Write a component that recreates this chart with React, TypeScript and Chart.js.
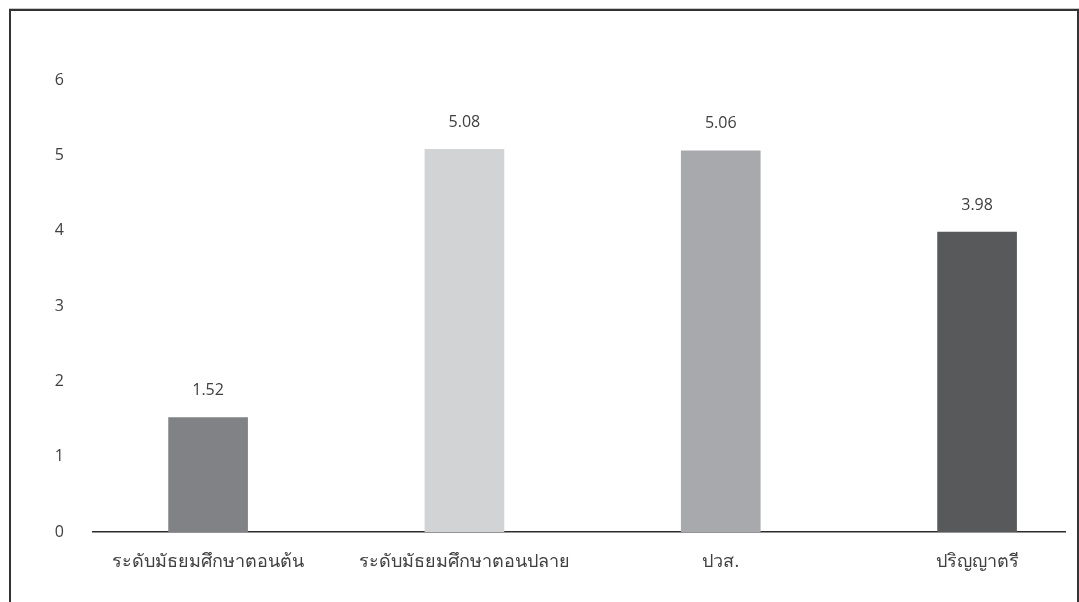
import React, { useEffect, useRef } from "react";
import { Chart, registerables } from "chart.js";

Chart.register(...registerables);

const categories = [
  "ระดับมัธยมศึกษาตอนต้น",
  "ระดับมัธยมศึกษาตอนปลาย",
  "ปวส.",
  "ปริญญาตรี",
];
const values = [1.52, 5.08, 5.06, 3.98];
const valueLabels = ["1.52", "5.08", "5.06", "3.98"];
const barColors = ["#808285", "#d1d3d4", "#a7a9ac", "#58595b"];
const yTicks = [0, 1, 2, 3, 4, 5, 6];

const FONT = '"Open Sans", "Noto Sans", "DejaVu Sans", sans-serif';
const TEXT = "#404040";

const labelPlugin = {
  id: "valueLabels",
  afterDatasetsDraw(chart: any) {
    const ctx = chart.ctx;
    const meta = chart.getDatasetMeta(0);
    ctx.save();
    ctx.font = `16px ${FONT}`;
    ctx.fillStyle = TEXT;
    ctx.textAlign = "center";
    ctx.textBaseline = "middle";
    meta.data.forEach((el: any, i: number) => {
      ctx.fillText(valueLabels[i], el.x, el.y - 27);
    });
    ctx.restore();
  },
};

export default function App() {
  const ref = useRef<HTMLCanvasElement>(null);
  useEffect(() => {
    document.documentElement.style.overflow = "hidden";
    const chart = new Chart(ref.current!, {
      type: "bar",
      data: {
        datasets: [
          {
            data: values.map((v, i) => ({ x: i, y: v })),
            backgroundColor: barColors,
            borderWidth: 0,
            barThickness: 79,
          },
        ],
      },
      options: {
        animation: false,
        responsive: false,
        maintainAspectRatio: false,
        layout: { padding: { top: 80, right: 14, left: 0, bottom: 15 } },
        plugins: { legend: { display: false }, tooltip: { enabled: false } },
        scales: {
          x: {
            type: "linear",
            offset: false,
            min: -0.449,
            max: 3.343,
            grid: { display: false, drawTicks: false, offset: false },
            border: { display: true, color: "#2b2b2b", width: 1.5 },
            afterBuildTicks: (scale: any) => {
              scale.ticks = categories.map((_, i) => ({ value: i }));
            },
            afterFit: (scale: any) => {
              scale.height = 55;
            },
            ticks: {
              autoSkip: false,
              maxRotation: 0,
              padding: 19,
              color: TEXT,
              font: { family: FONT, size: 18 },
              callback: (v: any) => categories[v] ?? "",
            },
          },
          y: {
            min: 0,
            max: 6,
            grid: { display: false, drawTicks: false },
            border: { display: false },
            afterBuildTicks: (scale: any) => {
              scale.ticks = yTicks.map((v) => ({ value: v }));
            },
            afterFit: (scale: any) => {
              scale.width = 93;
            },
            ticks: {
              padding: 29,
              color: TEXT,
              font: { family: FONT, size: 16 },
            },
          },
        },
      },
      plugins: [labelPlugin],
    } as any);
    return () => chart.destroy();
  }, []);

  return (
    <div>
      <div
        style={{
          position: "fixed",
          left: 9,
          top: 9,
          width: 1070,
          height: 600,
          boxSizing: "border-box",
          borderTop: "2px solid #333",
          borderLeft: "2px solid #333",
          borderRight: "2px solid #333",
          boxShadow: "0 -1px 0 #c8c8c8",
        }}
      />
      <canvas
        ref={ref}
        width={1079}
        height={602}
        style={{ position: "fixed", left: 0, top: 0, width: 1079, height: 602 }}
      />
    </div>
  );
}
